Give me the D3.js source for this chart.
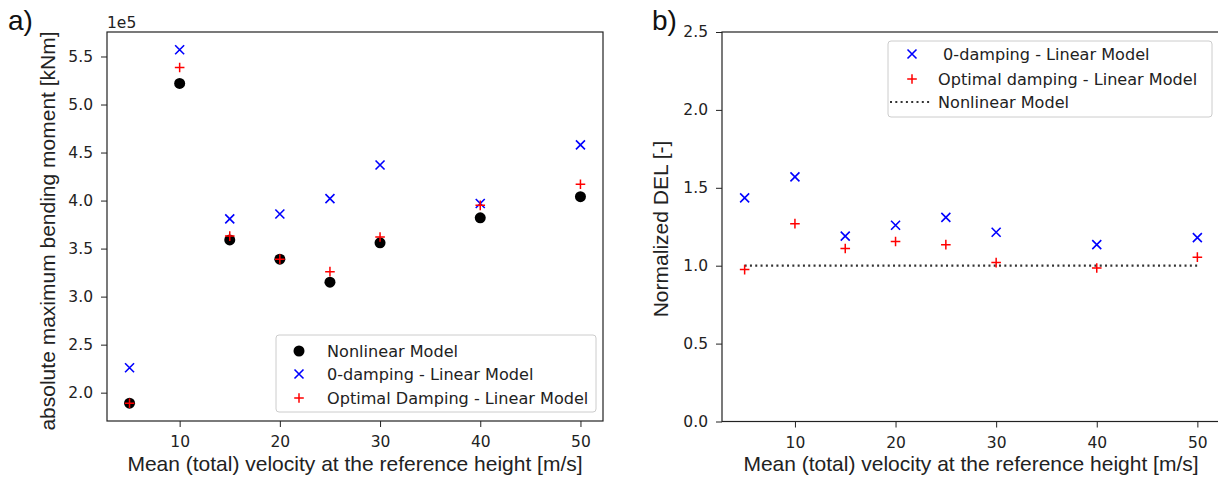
<!DOCTYPE html>
<html>
<head>
<meta charset="utf-8">
<script src="https://cdn.jsdelivr.net/npm/d3@7"></script>
<style>
  body { margin: 0; background: white; }
  svg { display: block; }
  .tick text { font-family: "DejaVu Sans"; font-size: 15.5px; fill: #222; }
  .tick line { stroke: #222; }
  .lab { font-family: "Liberation Sans", Arial; font-size: 21px; fill: #222; }
  .leg { font-family: "DejaVu Sans"; font-size: 16.1px; fill: #222; white-space: pre; }
</style>
</head>
<body>
<script>
// wind speeds [m/s]
var speeds = [5, 10, 15, 20, 25, 30, 40, 50];

// a) absolute maximum bending moment, x 1e5 kNm
var nonlinearMax = [1.89, 5.22, 3.59, 3.39, 3.15, 3.56, 3.82, 4.04];
var zeroDampMax = [2.26, 5.57, 3.81, 3.86, 4.02, 4.37, 3.97, 4.58];
var optDampMax = [1.89, 5.385, 3.63, 3.39, 3.26, 3.62, 3.95, 4.17];

// b) normalized DEL
var zeroDampDEL = [1.435, 1.57, 1.19, 1.26, 1.31, 1.215, 1.135, 1.18];
var optDampDEL = [0.975, 1.27, 1.11, 1.155, 1.135, 1.02, 0.985, 1.055];
var nonlinearDEL = [1, 1, 1, 1, 1, 1, 1, 1];

var xTicks = [10, 20, 30, 40, 50];
var yTicksA = [2.0, 2.5, 3.0, 3.5, 4.0, 4.5, 5.0, 5.5];
var yTicksB = [0.0, 0.5, 1.0, 1.5, 2.0, 2.5];

var width = 1218, height = 483;

var svg = d3.select("body").append("svg")
  .attr("width", width)
  .attr("height", height);

// matplotlib-like 5% margins
var xDomain = [5 - 2.25, 50 + 2.25];

function cross(g, x, y, s) {
  g.append("path")
    .attr("d", "M" + (x - s) + "," + (y - s) + "L" + (x + s) + "," + (y + s) +
      "M" + (x - s) + "," + (y + s) + "L" + (x + s) + "," + (y - s))
    .attr("stroke", "blue").attr("stroke-width", 1.6).attr("fill", "none");
}
function plus(g, x, y, s) {
  g.append("path")
    .attr("d", "M" + (x - s) + "," + y + "L" + (x + s) + "," + y +
      "M" + x + "," + (y - s) + "L" + x + "," + (y + s))
    .attr("stroke", "red").attr("stroke-width", 1.5).attr("fill", "none");
}

function drawAxes(left, right, top, bottom, yDomain, yTicks) {
  var x = d3.scaleLinear().domain(xDomain).range([left, right]);
  var y = d3.scaleLinear().domain(yDomain).range([bottom, top]);

  svg.append("g")
    .attr("transform", "translate(0," + bottom + ")")
    .call(d3.axisBottom(x).tickValues(xTicks).tickSize(6).tickPadding(9).tickSizeOuter(0))
    .call(function (g) { g.select(".domain").remove(); });

  svg.append("g")
    .attr("transform", "translate(" + left + ",0)")
    .call(d3.axisLeft(y).tickValues(yTicks).tickFormat(d3.format(".1f")).tickSize(6).tickPadding(8).tickSizeOuter(0))
    .call(function (g) { g.select(".domain").remove(); });

  svg.append("rect")
    .attr("x", left).attr("y", top)
    .attr("width", right - left).attr("height", bottom - top)
    .attr("fill", "none").attr("stroke", "#222").attr("stroke-width", 1.2);

  svg.append("text").attr("class", "lab")
    .attr("x", (left + right) / 2).attr("y", 471)
    .attr("text-anchor", "middle")
    .text("Mean (total) velocity at the reference height [m/s]");

  return { x: x, y: y };
}

// ---- panel a)
var a = drawAxes(107, 603, 32, 421, [1.705, 5.755], yTicksA);

svg.append("text").attr("class", "lab")
  .attr("transform", "translate(55," + 231 + ") rotate(-90)")
  .attr("text-anchor", "middle")
  .text("absolute maximum bending moment [kNm]");

svg.append("text")
  .attr("x", 107).attr("y", 28)
  .style("font-family", "DejaVu Sans").style("font-size", "15.5px").attr("fill", "#222")
  .text("1e5");

svg.append("text")
  .attr("x", 8).attr("y", 30)
  .style("font-family", "Liberation Sans").style("font-size", "28px").attr("fill", "#111")
  .text("a)");

var ga = svg.append("g");
speeds.forEach(function (s, i) {
  ga.append("circle").attr("cx", a.x(s)).attr("cy", a.y(nonlinearMax[i])).attr("r", 5.5).attr("fill", "black");
});
speeds.forEach(function (s, i) { cross(ga, a.x(s), a.y(zeroDampMax[i]), 4.5); });
speeds.forEach(function (s, i) { plus(ga, a.x(s), a.y(optDampMax[i]), 4.8); });

// legend a)
var la = svg.append("g");
la.append("rect").attr("x", 276).attr("y", 335).attr("width", 320).attr("height", 77)
  .attr("rx", 3).attr("fill", "white").attr("fill-opacity", 0.8).attr("stroke", "#cccccc");
la.append("circle").attr("cx", 299).attr("cy", 351).attr("r", 5.5).attr("fill", "black");
cross(la, 299, 374, 4.5);
plus(la, 299, 398, 4.8);
[["Nonlinear Model", 351], ["0-damping - Linear Model", 374], ["Optimal Damping - Linear Model", 398]].forEach(function (d) {
  la.append("text").attr("class", "leg").attr("x", 327).attr("y", d[1]).attr("dy", "0.36em").text(d[0]);
});

// ---- panel b)
var b = drawAxes(722, 1220, 32, 421.5, [0, 2.5], yTicksB);

svg.append("text").attr("class", "lab")
  .attr("transform", "translate(668," + 229 + ") rotate(-90)")
  .attr("text-anchor", "middle")
  .text("Normalized DEL [-]");

svg.append("text")
  .attr("x", 652).attr("y", 30)
  .style("font-family", "Liberation Sans").style("font-size", "28px").attr("fill", "#111")
  .text("b)");

var gb = svg.append("g");
gb.append("path")
  .datum(speeds)
  .attr("d", d3.line().x(function (d) { return b.x(d); }).y(function (d, i) { return b.y(nonlinearDEL[i]); }))
  .attr("fill", "none").attr("stroke", "#333").attr("stroke-width", 2.2).attr("stroke-dasharray", "2,3.3");
speeds.forEach(function (s, i) { cross(gb, b.x(s), b.y(zeroDampDEL[i]), 4.5); });
speeds.forEach(function (s, i) { plus(gb, b.x(s), b.y(optDampDEL[i]), 4.8); });

// legend b)
var lb = svg.append("g");
lb.append("rect").attr("x", 888).attr("y", 41).attr("width", 324).attr("height", 76)
  .attr("rx", 3).attr("fill", "white").attr("fill-opacity", 0.8).attr("stroke", "#cccccc");
cross(lb, 912, 54, 4.5);
plus(lb, 912, 79, 4.8);
lb.append("path").attr("d", "M890,102L932,102")
  .attr("stroke", "#333").attr("stroke-width", 2.2).attr("stroke-dasharray", "2,3.3");
[[" 0-damping - Linear Model", 54], ["Optimal damping - Linear Model", 79], ["Nonlinear Model", 102]].forEach(function (d) {
  lb.append("text").attr("class", "leg").attr("x", 938).attr("y", d[1]).attr("dy", "0.36em").text(d[0]);
});
</script>
</body>
</html>
